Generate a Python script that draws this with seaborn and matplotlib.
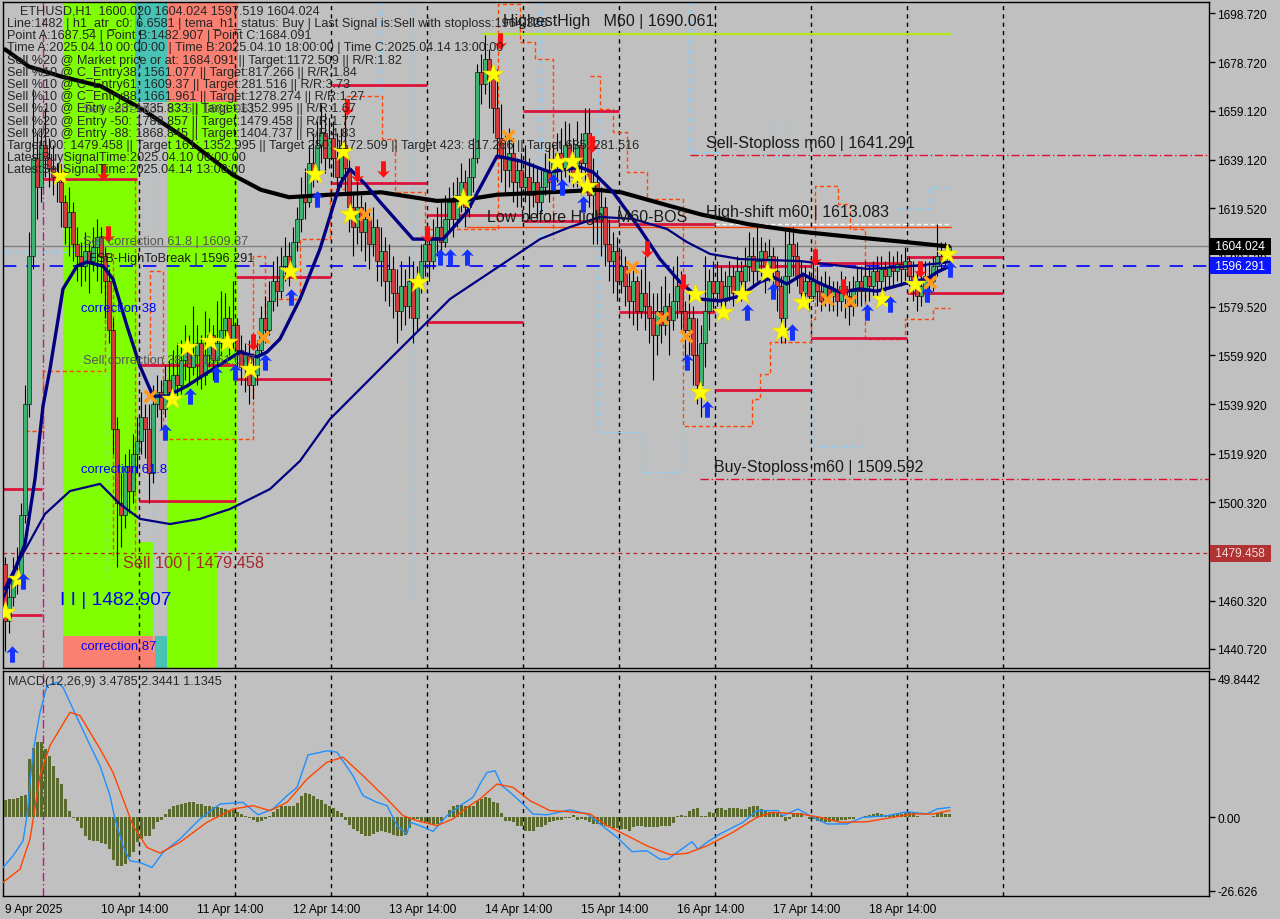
import numpy as np
import pandas as pd
import matplotlib
matplotlib.use("Agg")
import matplotlib.pyplot as plt
import matplotlib.transforms as mtransforms
from matplotlib.path import Path
from matplotlib.patches import Rectangle
import seaborn as sns

sns.set_style("white")
plt.rcParams['font.family'] = ['Liberation Sans', 'DejaVu Sans']

# ---------------- data: ETHUSD H1, bar 0 = 9 Apr 14:00 ----------------
first_open = 1475.0
closes = [1452, 1462, 1470, 1468, 1495, 1540, 1600, 1640, 1628, 1645, 1640, 1636,
          1632, 1630, 1622, 1612, 1618, 1605, 1600, 1596, 1602, 1598, 1604, 1608,
          1600, 1590, 1570, 1530, 1500, 1495, 1515, 1505, 1520, 1525, 1535, 1530,
          1512, 1540, 1545, 1538, 1550, 1545, 1552, 1548, 1558, 1563, 1555, 1560,
          1565, 1552, 1560, 1568, 1558, 1565, 1570, 1575, 1566, 1572, 1562, 1555,
          1560, 1548, 1552, 1562, 1575, 1570, 1582, 1590, 1586, 1596, 1600, 1594,
          1606, 1615, 1625, 1622, 1638, 1634, 1645, 1650, 1640, 1648, 1640, 1632,
          1645, 1636, 1620, 1612, 1620, 1610, 1615, 1605, 1612, 1598, 1602, 1590,
          1595, 1585, 1578, 1588, 1580, 1590, 1575, 1590, 1598, 1605, 1598, 1608,
          1612, 1606, 1615, 1622, 1615, 1625, 1630, 1620, 1632, 1640, 1675, 1670,
          1680, 1672, 1660, 1648, 1640, 1635, 1642, 1630, 1635, 1628, 1632, 1625,
          1630, 1622, 1628, 1635, 1630, 1638, 1642, 1636, 1645, 1640, 1632, 1645,
          1638, 1650, 1625, 1630, 1615, 1620, 1605, 1598, 1602, 1590, 1596, 1588,
          1582, 1590, 1578, 1585, 1580, 1575, 1568, 1578, 1572, 1580, 1574, 1582,
          1588, 1578, 1570, 1575, 1560, 1548, 1565, 1578, 1590, 1585, 1590, 1582,
          1588, 1592, 1585, 1594, 1590, 1596, 1600, 1594, 1598, 1602, 1596, 1600,
          1594, 1588, 1575, 1592, 1605, 1600, 1592, 1585, 1590, 1584, 1590, 1586,
          1582, 1588, 1584, 1586, 1582, 1588, 1584, 1580, 1586, 1590, 1586, 1592,
          1588, 1594, 1590, 1595, 1592, 1596, 1594, 1597, 1595, 1598, 1592, 1590,
          1584, 1588, 1592, 1590, 1596, 1600, 1598, 1600.02, 1604.024]
highs = [1478, 1468, 1478, 1482, 1500, 1548, 1610, 1668, 1650, 1652, 1660, 1648,
         1645, 1638, 1633, 1625, 1628, 1622, 1612, 1606, 1610, 1606, 1612, 1615,
         1612, 1604, 1595, 1575, 1535, 1512, 1520, 1522, 1528, 1535, 1545, 1540,
         1540, 1548, 1552, 1550, 1556, 1558, 1562, 1565, 1566, 1572, 1568, 1580,
         1572, 1568, 1578, 1575, 1572, 1582, 1586, 1585, 1580, 1590, 1575, 1568,
         1565, 1566, 1560, 1566, 1580, 1584, 1590, 1598, 1600, 1604, 1608, 1606,
         1612, 1620, 1632, 1636, 1645, 1650, 1655, 1662, 1658, 1656, 1655, 1650,
         1652, 1660, 1640, 1625, 1630, 1625, 1622, 1618, 1620, 1615, 1612, 1608,
         1605, 1600, 1595, 1598, 1595, 1600, 1598, 1596, 1605, 1612, 1610, 1615,
         1620, 1622, 1625, 1628, 1630, 1632, 1638, 1635, 1640, 1648, 1678, 1682,
         1690, 1684, 1678, 1676, 1662, 1650, 1652, 1648, 1640, 1642, 1645, 1640,
         1638, 1636, 1635, 1642, 1645, 1645, 1650, 1652, 1655, 1654, 1648, 1655,
         1650, 1660, 1660, 1640, 1635, 1628, 1624, 1615, 1610, 1608, 1603, 1600,
         1595, 1596, 1592, 1595, 1600, 1590, 1585, 1585, 1588, 1592, 1585, 1596,
         1600, 1594, 1582, 1585, 1580, 1575, 1572, 1600, 1595, 1598, 1598, 1596,
         1594, 1598, 1596, 1600, 1598, 1604, 1610, 1608, 1612, 1608, 1606, 1607,
         1604, 1600, 1592, 1612, 1612, 1612, 1606, 1598, 1596, 1594, 1598, 1596,
         1592, 1594, 1592, 1590, 1590, 1594, 1592, 1590, 1592, 1596, 1596, 1598,
         1596, 1598, 1600, 1600, 1598, 1602, 1600, 1602, 1601, 1604, 1600, 1598,
         1594, 1596, 1598, 1598, 1600, 1613, 1606, 1606, 1604.024]
lows = [1440, 1447, 1458, 1463, 1466, 1492, 1535, 1595, 1615, 1622, 1632, 1628,
        1625, 1622, 1612, 1605, 1600, 1598, 1590, 1588, 1590, 1585, 1594, 1590,
        1585, 1575, 1565, 1520, 1474, 1482, 1490, 1496, 1500, 1512, 1520, 1518,
        1500, 1508, 1535, 1530, 1535, 1540, 1540, 1542, 1544, 1550, 1548, 1552,
        1548, 1546, 1548, 1555, 1550, 1555, 1560, 1564, 1560, 1562, 1555, 1548,
        1545, 1540, 1542, 1548, 1560, 1565, 1568, 1578, 1580, 1583, 1590, 1588,
        1592, 1602, 1610, 1615, 1620, 1628, 1630, 1638, 1634, 1636, 1632, 1625,
        1628, 1625, 1610, 1600, 1605, 1602, 1598, 1595, 1600, 1590, 1588, 1582,
        1580, 1575, 1565, 1570, 1572, 1575, 1565, 1570, 1585, 1592, 1590, 1595,
        1600, 1598, 1604, 1610, 1608, 1612, 1618, 1612, 1616, 1626, 1638, 1662,
        1666, 1660, 1650, 1640, 1630, 1625, 1628, 1622, 1620, 1620, 1622, 1615,
        1620, 1615, 1618, 1625, 1622, 1626, 1630, 1630, 1632, 1630, 1628, 1628,
        1625, 1630, 1620, 1605, 1605, 1600, 1596, 1590, 1585, 1582, 1585, 1580,
        1575, 1572, 1570, 1575, 1570, 1565, 1550, 1560, 1565, 1568, 1560, 1570,
        1575, 1570, 1555, 1560, 1548, 1540, 1535, 1555, 1570, 1578, 1580, 1575,
        1578, 1582, 1580, 1583, 1582, 1586, 1590, 1588, 1590, 1592, 1585, 1590,
        1585, 1578, 1565, 1565, 1585, 1592, 1588, 1580, 1582, 1578, 1582, 1580,
        1578, 1580, 1578, 1578, 1576, 1578, 1575, 1572, 1576, 1580, 1580, 1582,
        1582, 1584, 1584, 1586, 1586, 1588, 1588, 1590, 1588, 1590, 1588, 1582,
        1578, 1580, 1582, 1585, 1586, 1592, 1594, 1595, 1597.519]

# moving averages (bar, price)
ma_slow_bar = [0, 6, 14, 24, 34, 45, 57, 64, 71, 81, 94, 108, 115, 123, 136, 148, 154,
               165, 174, 186, 199, 211, 224, 236]
ma_slow_val = [1684, 1677, 1673, 1669, 1660, 1648, 1633, 1627, 1624, 1625, 1626, 1622.5,
               1623, 1625, 1626, 1627, 1626, 1621, 1617, 1613, 1610, 1608, 1606, 1604]
ma_fast_bar = [0, 2.5, 5, 7.5, 9.5, 11.25, 14.5, 18, 20.5, 24.5, 27, 30.5, 33.75, 37,
               40.5, 45.5, 52, 58.75, 63, 65.5, 68.75, 73.75, 78.75, 83.75, 86.25, 90,
               93.75, 102, 109.5, 115.5, 123, 128.75, 136.25, 143.75, 147, 152, 158.75,
               163.75, 168.75, 173.75, 178.75, 183.75, 188.75, 192, 195.5, 199.5, 203,
               208.75, 213.75, 218, 222, 226.25, 230.5, 233, 236.25]
ma_fast_val = [1465.1, 1473.2, 1483.3, 1509.7, 1539.3, 1554.3, 1586.8, 1596.1, 1597.7,
               1596.1, 1590.8, 1571.7, 1555.5, 1543.3, 1543.3, 1547.4, 1554.3, 1561.2,
               1559.2, 1561.2, 1566.5, 1582.7, 1603.0, 1629.4, 1635.4, 1629.4, 1622.1,
               1607.0, 1607.0, 1618.0, 1640.7, 1638.7, 1634.2, 1636.2, 1634.2, 1626.1,
               1611.1, 1598.9, 1589.6, 1582.7, 1581.9, 1583.9, 1589.6, 1591.6, 1588.8,
               1592.8, 1589.6, 1585.5, 1586.8, 1585.9, 1587.6, 1589.6, 1590.8, 1593.6,
               1596.1]
ma_mid_bar = [-0.5, 3.75, 10, 16.25, 23.75, 28.75, 33.75, 41.25, 48.75, 56.25, 66.25,
              73.75, 81.25, 88.75, 96.25, 103.75, 111.25, 118.75, 126.25, 133.75,
              141.25, 148.75, 157, 165.5, 170.5, 176.25, 183.75, 198.75, 215.5, 223.75,
              232, 236.25]
ma_mid_val = [1461.0, 1477.2, 1495.5, 1504.8, 1507.7, 1499.5, 1493.5, 1491.4, 1493.5,
              1497.5, 1505.6, 1517.0, 1534.0, 1546.2, 1558.4, 1570.5, 1582.7, 1590.8,
              1598.9, 1607.0, 1611.9, 1616.0, 1615.2, 1611.1, 1605.8, 1601.0, 1598.9,
              1598.1, 1594.9, 1595.7, 1596.9, 1597.7]

# trailing step lines (NaN = break)
orange_bar = [5, 9.5, 25, 27, np.nan, 32.5, 32.5, np.nan,
              36.25, 36.25, 39.5, 62, 65, 66.25, 73.75, 81.25, 85, 94.25, 97.5, 105,
              123.25, 128.75, 132.5, 137, np.nan,
              146.25, 148.75, 152, 155.5, 160.5, 169.5, 186.75, 188.75, 191.25, 201.5,
              202.5, 208.25, 211.25, 215, 225, 232, 236.25]
orange_lvl = [1529.2, 1553.5, 1601.0, 1477.2, np.nan, 1631.4, 1477.2, np.nan,
              1557.1, 1594.1, 1525.9, 1600.1, 1570.5, 1582.7, 1607.0, 1627.3, 1665.0,
              1647.6, 1626.1, 1611.1, 1702.4, 1687.0, 1680.1, 1607.0, np.nan,
              1673.2, 1659.8, 1650.4, 1634.2, 1623.3, 1531.2, 1542.1, 1552.3, 1565.3,
              1574.6, 1628.5, 1621.2, 1611.1, 1566.5, 1574.6, 1579.1, 1579.1]
lblue_bar = [-0.5, 25.5, np.nan, 37, 37, np.nan, 93.75, 93.75, np.nan, 102, 102, np.nan,
             133.75, 133.75, np.nan, 148.25, 148.25, 159.5, 169.5, 169.5, np.nan,
             171.25, 171.25, 178.75, np.nan, 192, 192, 195.5, 195.5, np.nan,
             202, 202, 214.5, 214.5, np.nan, 223, 231.25, 237]
lblue_lvl = [1601.8, 1470.0, np.nan, 1440.0, 1667.0, np.nan, 1704, 1663.8, np.nan,
             1704, 1461.0, np.nan, 1704, 1607.0, np.nan, 1663.8, 1528.7, 1512.5,
             1582.7, 1582.7, np.nan, 1704, 1642.3, 1642.3, np.nan, 1655.7, 1640.7,
             1655.7, 1655.7, np.nan, 1582.7, 1523.1, 1582.7, 1582.7, np.nan,
             1619.2, 1628.1, 1628.1]

# daily crimson levels (start bar, end bar, price)
seg_start = [-0.5, -0.5, 9.5, 33.5, 33.5, 57.75, 57.75, 81.5, 81.5, 105.5, 105.5,
             129.5, 129.5, 153.5, 153.5, 177.5, 177.5, 201.5, 201.5, 225.5, 225.5]
seg_end = [9.25, 9.25, 33, 57.5, 57.5, 81.5, 81.5, 105.5, 105.5, 129.5, 129.5,
           153.5, 153.5, 177.5, 177.5, 201.5, 201.5, 225.5, 225.5, 249.5, 249.5]
seg_lvl = [1505.6, 1454.5, 1631.4, 1556.0, 1500.8, 1591.6, 1550.2, 1669.5, 1629.8,
           1573.3, 1616.6, 1659.1, 1614.3, 1613.1, 1577.4, 1596.1, 1545.8, 1597.3,
           1566.9, 1599.7, 1585.1]

# signal markers (bar, price)
star_bar = [0, 3.25, 13.75, 41.75, 45.5, 51.25, 55.5, 61.25, 71.25, 77.5, 84.5, 86.25,
            103.25, 114.5, 122, 138, 141.75, 143, 145.5, 172.5, 173.75, 179.5, 184.25,
            190.5, 194.25, 199.5, 219.25, 227.5, 235.5]
star_val = [1455.7, 1469.1, 1633.0, 1542.1, 1563.2, 1565.7, 1565.3, 1554.3, 1594.0,
            1633.4, 1642.7, 1617.2, 1589.6, 1623.3, 1674.0, 1638.3, 1638.7, 1632.6,
            1628.5, 1584.7, 1545.0, 1577.4, 1584.7, 1593.6, 1569.7, 1581.5, 1582.7,
            1588.8, 1601.0]
buy_bar = [1.75, 4.5, 40, 46.25, 52.75, 57.5, 65, 71.5, 78, 108.75, 111.25, 115.5, 137,
           139.25, 144.5, 170.5, 175.5, 185.5, 192, 196.75, 215.5, 221.25, 230.5, 236.25]
buy_val = [1438.7, 1468.3, 1528.7, 1543.3, 1552.3, 1553.1, 1557.1, 1583.5, 1623.3,
           1599.7, 1599.7, 1599.7, 1630.2, 1628.1, 1621.2, 1557.1, 1538.1, 1577.4,
           1585.9, 1569.3, 1577.4, 1580.7, 1584.7, 1594.9]
sell_bar = [24.5, 25.75, 62, 85.5, 88, 94.5, 105.5, 123.75, 146.75, 160.5, 169.5,
            202.5, 209.5, 228.75]
sell_val = [1634.2, 1609.1, 1565.3, 1660.6, 1633.4, 1635.4, 1609.1, 1687.4, 1645.6,
            1603.0, 1589.6, 1599.7, 1587.6, 1594.9]
cross_bar = [36.25, 64.5, 90, 125.75, 156.75, 164.25, 170.25, 205.5, 211.25, 231.25]
cross_val = [1543.3, 1567.3, 1617.2, 1648.8, 1595.7, 1575.0, 1567.7, 1582.7, 1581.9,
             1589.6]

# MACD(12,26,9)
macd_hist = [6.2, 6.5, 6.5, 6.8, 7.7, 8.0, 21.0, 25.0, 27.2, 27.2,
             24.5, 22.0, 18.5, 14.0, 12.0, 6.5, 2.0, -0.3, -1.5, -4.0,
             -7.0, -8.3, -8.5, -8.8, -9.2, -9.8, -11.5, -15.5, -17.5, -17.6,
             -17.0, -14.5, -12.5, -9.0, -7.8, -6.8, -6.7, -4.5, -1.8, -1.2,
             1.0, 2.8, 4.0, 4.5, 4.6, 4.9, 5.3, 5.3, 4.7, 4.6,
             3.9, 3.8, 3.6, 3.5, 3.2, 2.9, 2.6, 2.6, 1.7, 1.0,
             0.4, -0.3, -1.2, -1.9, -1.6, -0.8, 0.2, 1.7, 3.0, 4.1,
             3.9, 4.1, 4.0, 5.2, 7.5, 8.7, 8.3, 7.6, 6.5, 6.0,
             4.7, 4.0, 3.3, 2.3, 1.5, -1.2, -2.8, -4.2, -5.0, -6.0,
             -6.7, -6.7, -6.3, -5.5, -5.0, -5.3, -5.6, -6.4, -6.7, -6.7,
             -6.5, -3.8, -0.8, -0.6, -1.4, -1.8, -2.4, -2.9, -2.5, -1.5,
             0.0, 2.5, 4.0, 4.3, 4.3, 4.0, 3.9, 4.0, 5.8, 6.5,
             7.1, 6.8, 5.3, 5.1, 1.4, -1.3, -1.3, -1.9, -3.1, -3.1,
             -4.9, -4.9, -4.9, -3.7, -3.5, -3.0, -1.7, -1.4, -1.2, -0.9,
             -0.5, -0.3, 0.9, -1.0, -0.8, -1.2, -1.9, -2.5, -2.5, -2.9,
             -3.3, -3.3, -4.0, -3.8, -4.2, -4.2, -4.9, -3.5, -3.3, -3.3,
             -3.5, -3.5, -3.5, -3.5, -3.3, -3.3, -3.3, -2.2, 0.3, 0.7,
             0.5, 2.1, 2.9, 3.1, 0.5, 0.5, 1.7, 1.5, 3.1, 3.1,
             2.6, 3.1, 3.1, 3.1, 2.9, 2.9, 3.7, 3.8, 3.8, 2.9,
             2.3, 1.7, 1.7, 1.5, 0.7, -1.3, -0.8, 1.5, 1.5, 1.5,
             -0.1, -0.7, -0.7, -1.3, -1.9, -1.9, -1.9, -1.4, -1.3, -1.0,
             -1.0, -0.7, -0.7, -0.1, 0.1, 0.4, 0.7, 1.0, 1.5, 1.2,
             0.7, 0.7, 1.0, 1.0, 1.0, 1.5, 1.9, 1.5, 0.5, -0.1,
             -0.1, -0.1, 0.4, 1.5, 1.7, 1.1, 1.1345]
macd_main_bar = [-0.5, 2, 4.5, 5.5, 7, 8.75, 10.5, 13, 14.5, 17, 20.5, 23.75, 26.25, 27.5,
                 29.5, 31.25, 33.75, 36.75, 39.5, 43.75, 48.75, 53.75, 59.5, 63.25, 67,
                 70.5, 73, 75.75, 80.5, 83, 87, 89.5, 93, 95.5, 98, 100.5, 101.25,
                 103.75, 107, 110.5, 113.75, 117, 118.75, 120.5, 122.5, 124.25, 126.75,
                 129.5, 132, 135.5, 141.25, 145.5, 148.75, 153, 156.75, 160.5, 163.75,
                 165.75, 168, 171.75, 173.25, 175.5, 178.75, 184.5, 188, 193.25, 194.5,
                 198.25, 201.25, 205.5, 210.5, 214.5, 220.5, 225.5, 230.5, 233, 236.25]
macd_main_val = [-18.2, -14.0, -8.6, 0.5, 23.4, 37.8, 47.4, 48.6, 46.8, 39.0, 28.2, 18.5,
                 7.7, -0.7, -10.4, -15.8, -16.4, -18.2, -12.8, -7.9, -0.7, 4.7, 5.3,
                 0.8, 2.9, 7.7, 10.7, 22.4, 23.9, 23.4, 14.9, 7.7, 5.3, 4.1, -3.1, -6.1,
                 -1.9, -3.1, -5.2, 0.5, 4.1, 7.1, 11.9, 16.1, 16.7, 11.3, 8.3, 4.7, 1.1,
                 0.8, 2.6, 1.1, -2.5, -7.3, -12.5, -12.2, -15.2, -15.2, -12.8, -8.9,
                 -11.6, -9.1, -6.1, -1.9, 2.3, 2.3, 0.5, 2.9, 0.5, -2.5, -2.5, -0.1,
                 0.5, 1.9, 1.1, 2.9, 3.4785]
macd_sig_bar = [-0.5, 3.75, 6.25, 8.75, 11.25, 16.25, 18.75, 23.75, 27, 29.5, 32, 35.5,
                38.75, 43.75, 50.5, 57, 62, 66.25, 70.5, 75.5, 80.5, 84.5, 89.5, 95.5,
                99.5, 103, 108, 112, 115.5, 118.75, 123, 127, 131.25, 136.25, 141.25,
                146.25, 150.5, 155.5, 160.5, 166.25, 170.5, 175.5, 182, 188, 192,
                198.75, 203.75, 208.75, 215.5, 222, 227, 232, 236.25]
macd_sig_val = [-23.6, -18.8, -7.9, 14.9, 25.8, 37.8, 36.6, 24.6, 16.1, 6.5, -3.1, -11.0,
                -13.0, -9.1, -1.9, 2.9, 4.1, 2.3, 5.3, 13.7, 19.8, 21.6, 14.9, 6.5, 0.5,
                -1.3, -3.1, -0.7, 3.5, 6.5, 11.9, 10.7, 5.9, 2.3, 1.9, 1.1, -3.1, -6.7,
                -10.4, -13.6, -13.1, -10.4, -5.5, -0.1, 1.7, 1.1, -0.1, -1.9, -1.7,
                -0.1, 1.1, 1.1, 2.3441]

# key levels
bid = 1604.024
fsb_high = 1596.291
sell100 = 1479.458
highest_high = 1690.061
sell_sl = 1641.291
buy_sl = 1509.592
high_shift = 1613.083
low_before_high = 1611.9

price_ticks = [1698.720, 1678.720, 1659.120, 1639.120, 1619.520, 1599.520, 1579.520,
               1559.920, 1539.920, 1519.920, 1500.320, 1460.320, 1440.720]
day_ticks = [0, 24, 48, 72, 96, 120, 144, 168, 192, 216]
day_labels = ['9 Apr 2025', '10 Apr 14:00', '11 Apr 14:00', '12 Apr 14:00',
              '13 Apr 14:00', '14 Apr 14:00', '15 Apr 14:00', '16 Apr 14:00',
              '17 Apr 14:00', '18 Apr 14:00']
separators = [9.5 + 24 * k for k in range(11)]

# highlighted zones (bar0, bar1, price_lo, price_hi, colour)
zones = [(14.5, 33, 1446.0, 1704, '#80FF00'),
         (33, 37, 1446.0, 1484, '#80FF00'),
         (14.5, 37.5, 1433, 1446.0, '#FA8072'),
         (37.5, 40.5, 1433, 1446.0, '#48C2B4'),
         (32.5, 40.5, 1662.6, 1704, '#48C2B4'),
         (40.5, 58.25, 1662.6, 1704, '#FA8072'),
         (40.5, 58.25, 1480.5, 1662.6, '#80FF00'),
         (40.5, 53.25, 1433, 1480.5, '#80FF00')]

info_lines = [
    "Line:1482 | h1_atr_c0: 6.6581 | tema_h1_status: Buy | Last Signal is:Sell with stoploss:1964.326",
    "Point A:1687.54 | Point B:1482.907 | Point C:1684.091",
    "Time A:2025.04.10 00:00:00 | Time B:2025.04.10 18:00:00 | Time C:2025.04.14 13:00:00",
    "Sell %20 @ Market price or at: 1684.091 || Target:1172.509 || R/R:1.82",
    "Sell %10 @ C_Entry38: 1561.077 || Target:817.266 || R/R:1.84",
    "Sell %10 @ C_Entry61: 1609.37 || Target:281.516 || R/R:3.73",
    "Sell %10 @ C_Entry88: 1661.961 || Target:1278.274 || R/R:1.27",
    "Sell %10 @ Entry -23: 1735.833 || Target:1352.995 || R/R:1.67",
    "Sell %20 @ Entry -50: 1789.857 || Target:1479.458 || R/R:1.77",
    "Sell %20 @ Entry -88: 1868.845 || Target:1404.737 || R/R:4.83",
    "Target100: 1479.458 || Target 161: 1352.995 || Target 250: 1172.509 || Target 423: 817.266 || Target 685: 281.516",
    "LatestBuySignalTime:2025.04.10 06:00:00",
    "LatestSellSignalTime:2025.04.14 13:00:00",
]

# ---------------- figure ----------------
BG = '#C0C0C0'
W, H = 1280, 920
fig = plt.figure(figsize=(12.8, 9.2), dpi=100, facecolor=BG)


def frac(x0, y0, x1, y1):
    return [x0 / W, 1 - y1 / H, (x1 - x0) / W, (y1 - y0) / H]


ax = fig.add_axes(frac(3, 3, 1209, 669), facecolor=BG)
axm = fig.add_axes(frac(3, 672, 1209, 897), facecolor=BG)
XL = (-0.5, 301)
ax.set_xlim(*XL)
ax.set_ylim(1433.0, 1703.2)
axm.set_xlim(*XL)
axm.set_ylim(-28.5, 52.7)

for a in (ax, axm):
    for s in a.spines.values():
        s.set_color('black')
        s.set_linewidth(1)

# zones
for b0, b1, p0, p1, c in zones:
    ax.add_patch(Rectangle((b0, p0), b1 - b0, p1 - p0, facecolor=c, edgecolor='none',
                           linewidth=0, zorder=0))

# separators
for i, sx in enumerate(separators):
    if i == 0:
        for a in (ax, axm):
            a.axvline(sx, color='#C8147E', lw=1, ls=(0, (6, 2, 1, 2)), zorder=1)
    else:
        for a in (ax, axm):
            a.axvline(sx, color='black', lw=1, ls=(0, (3, 3)), zorder=1)

# step lines
ax.plot(lblue_bar, lblue_lvl, drawstyle='steps-post', color='#87CEFA', lw=1,
        ls=(0, (4, 3)), zorder=1.5)
ax.plot(orange_bar, orange_lvl, drawstyle='steps-post', color='#FF4500', lw=1,
        ls=(0, (3, 2)), zorder=1.6)

# level lines
ax.axhline(bid, color='#808080', lw=1, zorder=1.7)
ax.axhline(fsb_high, color='#0000FF', lw=1.2, ls=(0, (8, 6)), zorder=1.7)
ax.axhline(sell100, color='#B22222', lw=0.9, ls=(0, (3, 3)), zorder=1.7)
ax.plot([171.25, 301], [sell_sl, sell_sl], color='#E0102A', lw=1, ls=(0, (6, 2, 1, 2)), zorder=1.7)
ax.plot([173.75, 301], [buy_sl, buy_sl], color='#E0102A', lw=1, ls=(0, (6, 2, 1, 2)), zorder=1.7)
ax.plot([119.5, 236.5], [highest_high, highest_high], color='#B4E61E', lw=1.6, zorder=1.7)
ax.plot([115.5, 236.5], [low_before_high, low_before_high], color='#FF4500', lw=1, zorder=1.7)
ax.plot([177.5, 236.5], [high_shift, high_shift], color='white', lw=1, ls=(0, (3, 2)), zorder=1.7)
ax.hlines(seg_lvl, seg_start, seg_end, color='#DC143C', lw=2, zorder=2)

# candles
df = pd.DataFrame({'bar': np.arange(len(closes)), 'close': closes, 'high': highs, 'low': lows})
df['open'] = df['close'].shift(1).fillna(first_open)
up = df['close'] >= df['open']
ax.vlines(df['bar'], df['low'], df['high'], color='black', lw=0.8, zorder=3)
body_lo = df[['open', 'close']].min(axis=1)
body_h = (df['close'] - df['open']).abs().clip(lower=0.4)
ax.bar(df['bar'], body_h, bottom=body_lo, width=0.8,
       color=np.where(up, '#3CB371', '#D23C3C'), edgecolor='black', linewidth=0.4, zorder=4)

# moving averages
sns.lineplot(x=ma_slow_bar, y=ma_slow_val, ax=ax, color='black', lw=3, estimator=None, zorder=5)
sns.lineplot(x=ma_mid_bar, y=ma_mid_val, ax=ax, color='#000080', lw=1.6, estimator=None, zorder=5)
sns.lineplot(x=ma_fast_bar, y=ma_fast_val, ax=ax, color='#000080', lw=2.4, estimator=None, zorder=5)

# markers
arrow = Path([(0, 1), (0.8, 0.15), (0.3, 0.3), (0.3, -1), (-0.3, -1), (-0.3, 0.3),
              (-0.8, 0.15), (0, 1)])
arrow_dn = Path([(x, -y) for x, y in arrow.vertices])
ax.scatter(star_bar, star_val, marker='*', s=260, color='#FFFF00', edgecolors='#E8D000',
           linewidths=0.4, zorder=6)
ax.scatter(buy_bar, buy_val, marker=arrow, s=140, color='#1432FF', linewidths=0, zorder=6)
ax.scatter(sell_bar, sell_val, marker=arrow_dn, s=140, color='#FF1010', linewidths=0, zorder=6)
ax.scatter(cross_bar, cross_val, marker='x', s=70, color='#FF9A1A', linewidths=2.6, zorder=6)

# chart labels
lab = dict(ha='left', va='center', zorder=7)
ax.text(19.5, 1659.8, 'Sell correction 87.5 | 1661.961', color='#707070', fontsize=9.2, **lab)
ax.text(19.5, 1606.2, 'Sell correction 61.8 | 1609.37', color='#555555', fontsize=9.2, **lab)
ax.text(21, 1599.3, 'FSB-HighToBreak | 1596.291', color='#1A1A1A', fontsize=9.2, **lab)
ax.text(19, 1579.0, 'correction 38', color='#0000FF', fontsize=9.4, **lab)
ax.text(19.5, 1558.0, 'Sell correction 38.2 | 1561.077', color='#555555', fontsize=9.2, **lab)
ax.text(19, 1513.7, 'correction 61.8', color='#0000FF', fontsize=9.4, **lab)
ax.text(29.5, 1476.0, 'Sell 100 | 1479.458', color='#A52A2A', fontsize=11.8, **lab)
ax.text(13.75, 1460.6, 'I I | 1482.907', color='#0000FF', fontsize=13.8, **lab)
ax.text(19, 1441.9, 'correction 87', color='#0000FF', fontsize=9.4, **lab)
ax.text(124.5, 1695.6, 'HighestHigh   M60 | 1690.061', color='#1A1A1A', fontsize=11.5, **lab)
ax.text(120.5, 1616.2, 'Low before High   M60-BOS', color='#1A1A1A', fontsize=11.5, **lab)
ax.text(175.25, 1646.4, 'Sell-Stoploss m60 | 1641.291', color='#1A1A1A', fontsize=11.5, **lab)
ax.text(175.25, 1618.4, 'High-shift m60 | 1613.083', color='#1A1A1A', fontsize=11.5, **lab)
ax.text(177.25, 1514.6, 'Buy-Stoploss m60 | 1509.592', color='#1A1A1A', fontsize=11.5, **lab)

# info block
fig.text(20 / W, 1 - 11 / H, 'ETHUSD,H1  1600.020 1604.024 1597.519 1604.024',
         fontsize=9.1, va='center', ha='left', zorder=8)
for i, line in enumerate(info_lines):
    fig.text(7 / W, 1 - (24 + 12.2 * i) / H, line, fontsize=9.1, va='center', ha='left', zorder=8)

# price axis
ax.yaxis.tick_right()
ax.set_yticks(price_ticks)
ax.set_yticklabels([f'{v:.3f}' for v in price_ticks])
ax.tick_params(axis='y', direction='out', length=4, width=1, pad=2, labelsize=8.6, colors='black')
ax.set_xticks([])
trans = mtransforms.blended_transform_factory(ax.transAxes, ax.transData)
for val, fc, tc in [(bid, 'black', 'white'), (fsb_high, '#0A14FF', 'white'),
                    (sell100, '#B03232', '#F5DCDC')]:
    ax.text(1.0025, val, f' {val:.3f} ', transform=trans, ha='left', va='center',
            fontsize=8.6, color=tc, zorder=20, clip_on=False,
            bbox=dict(boxstyle='square,pad=0.2', fc=fc, ec='none'))

# MACD panel
axm.bar(np.arange(len(macd_hist)), macd_hist, width=0.75, color='#5B6B2F',
        edgecolor='none', linewidth=0, zorder=3)
sns.lineplot(x=macd_main_bar, y=macd_main_val, ax=axm, color='#1E90FF', lw=1, estimator=None, zorder=4)
sns.lineplot(x=macd_sig_bar, y=macd_sig_val, ax=axm, color='#FF4500', lw=1, estimator=None, zorder=4)
axm.yaxis.tick_right()
axm.set_yticks([49.8442, 0, -26.626])
axm.set_yticklabels(['49.8442', '0.00', '-26.626'])
axm.tick_params(axis='y', direction='out', length=4, width=1, pad=2, labelsize=8.6, colors='black')
axm.set_xticks(day_ticks)
axm.set_xticklabels(day_labels, ha='left')
axm.tick_params(axis='x', direction='in', length=6, width=1, pad=5, labelsize=8.6, colors='black')
axm.text(0.004, 0.955, 'MACD(12,26,9) 3.4785 2.3441 1.1345', transform=axm.transAxes,
         fontsize=9.1, ha='left', va='center', zorder=8)

for a in (ax, axm):
    a.set_xlabel('')
    a.set_ylabel('')

fig.savefig('out.png', dpi=100, facecolor=BG)
